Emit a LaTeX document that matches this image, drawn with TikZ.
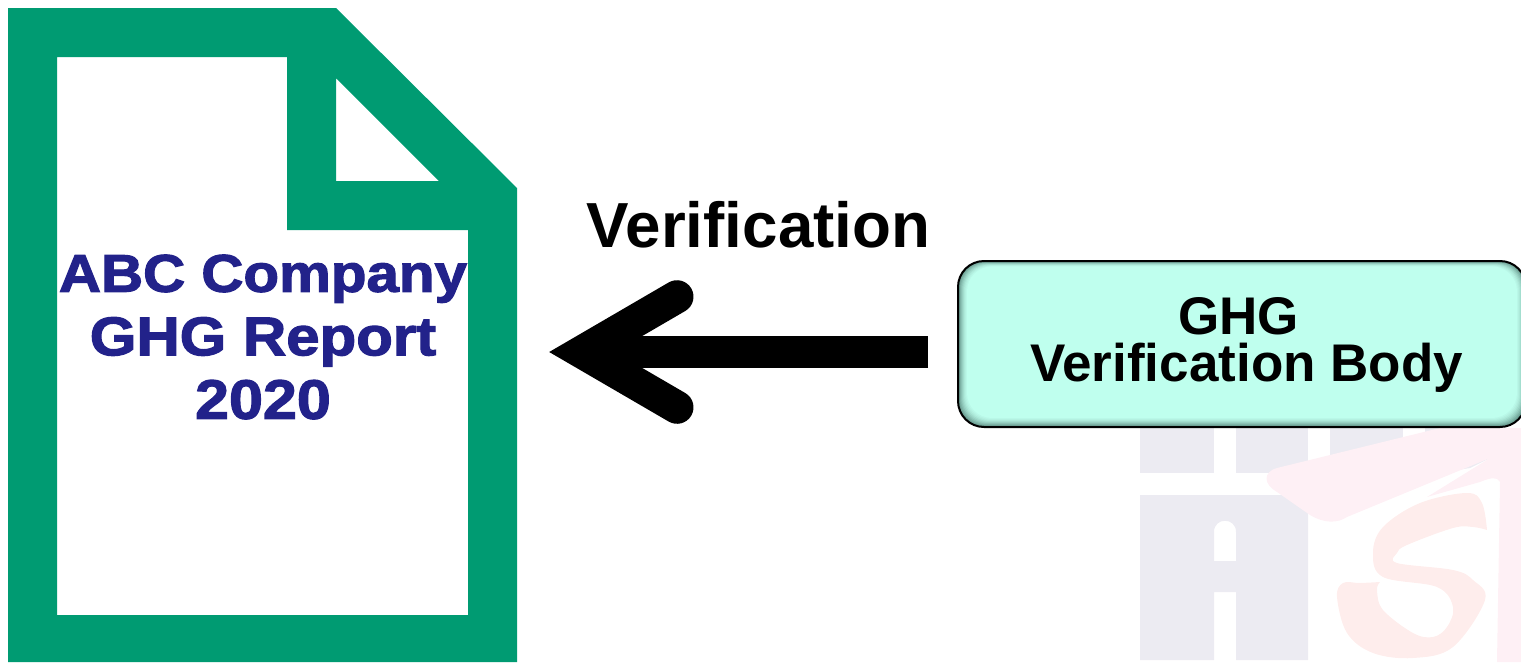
\documentclass[tikz,border=0pt]{standalone}
\usepackage{fontspec}
\setmainfont{Liberation Sans}
\newfontfamily\widebold{Liberation Sans}[BoldFeatures={FakeStretch=1.1,FakeBold=2.2}]
\definecolor{docgreen}{HTML}{009B72}
\definecolor{reportblue}{HTML}{22228A}
\definecolor{bodyfill}{HTML}{BFFFEE}
\definecolor{bodyedge}{HTML}{5F8F84}
\definecolor{wmgray}{HTML}{ECEBF2}
\definecolor{wmpink}{HTML}{FEF0F5}
\definecolor{wmred}{HTML}{FEEDEC}
\tikzset{
  x=1pt,y=-1pt,
  heading/.style={inner sep=0pt,font=\fontsize{63.7}{63.7}\selectfont\bfseries},
  bodytext/.style={inner sep=0pt,align=center,font=\fontsize{53}{47}\selectfont\bfseries},
  reporttext/.style={inner sep=0pt,align=center,text=reportblue,font=\widebold\fontsize{53}{63.5}\selectfont\bfseries},
  shaftline/.style={line width=32pt,black},
  headline/.style={line width=33pt,black,line cap=round,miter limit=10},
}
\begin{document}
\begin{tikzpicture}
\useasboundingbox (0,0) rectangle (1521,662);
% watermark
\fill[wmgray] (1140,428) rectangle (1214,473);
\fill[wmgray] (1236,428) rectangle (1308,473);
\fill[wmgray] (1330,428) rectangle (1403,455);
\fill[wmgray] (1425,428) rectangle (1480,445);
\fill[wmgray,even odd rule] (1140,495) -- (1308,495) -- (1308,660) -- (1236,660) -- (1236,592) -- (1214,592) -- (1214,660) -- (1140,660) -- cycle
  (1214,561) -- (1214,532) .. controls (1214,517) and (1236,517) .. (1236,532) -- (1236,561) -- cycle;
\fill[wmgray] (1445,472) -- (1490,458) -- (1470,468) -- cycle;
\fill[wmpink] (1277,468) -- (1440,428) -- (1521,428) -- (1521,662) -- (1497,662) -- (1500,482)
  .. controls (1497,476) and (1490,478) .. (1480,482) -- (1427,497) -- (1490,458) -- (1347,517)
  .. controls (1338,523) and (1325,524) .. (1310,515) -- (1277,492)
  .. controls (1263,484) and (1263,472) .. (1277,468) -- cycle;
\fill[wmred] plot[smooth,tension=.6] coordinates {(1487,530) (1482,503) (1467,493) (1420,503) (1383,527) (1373,553) (1383,577) (1437,587) (1453,607) (1447,627) (1433,637) (1413,633) (1383,610) (1377,590) (1380,582)}
  -- plot[smooth,tension=.6] coordinates {(1380,582) (1360,583) (1343,583) (1337,597) (1347,633) (1373,653) (1413,658) (1453,647) (1485,600) (1473,580) (1453,570) (1397,563) (1397,553) (1407,545) (1453,528) (1473,527) (1487,530)} -- cycle;
% document icon
\fill[docgreen,even odd rule] (8,8) -- (336,8) -- (517,188) -- (517,662) -- (8,662) -- cycle
  (57,57) -- (287,57) -- (287,230) -- (468,230) -- (468,615) -- (57,615) -- cycle
  (336,78) -- (336,181) -- (439,181) -- cycle;
\node[reporttext] (report) at (263,337) {ABC Company\\\fontsize{54.5}{63.5}\selectfont GHG Report\\\fontsize{55.5}{63.5}\selectfont 2020};
% verification body
\foreach \i/\c in {0/100,1/85,2/70,3/55,4/42,5/30,6/20,7/12,8/6,9/0}{
  \fill[bodyedge!\c!bodyfill,rounded corners=25pt] (958+\i,261+0.6*\i) rectangle (1526-\i,427-1.0*\i);
}
\draw[black,line width=2pt,rounded corners=26pt] (958,261) rectangle (1526,427);
\node[bodytext] (body) at (1246.5,344.5) {GHG\hspace*{16pt}\\Verification Body};
\node[heading] (verif) at (758.5,225) {Verification};
% arrow
\coordinate (tail) at (928,352);
\coordinate (apex) at (582,352);
\coordinate (barbtop) at (677,296.7);
\coordinate (barbbot) at (677,407.3);
\draw[shaftline] (tail) -- (apex);
\draw[headline] (barbtop) -- (apex) -- (barbbot);
\end{tikzpicture}
\end{document}
